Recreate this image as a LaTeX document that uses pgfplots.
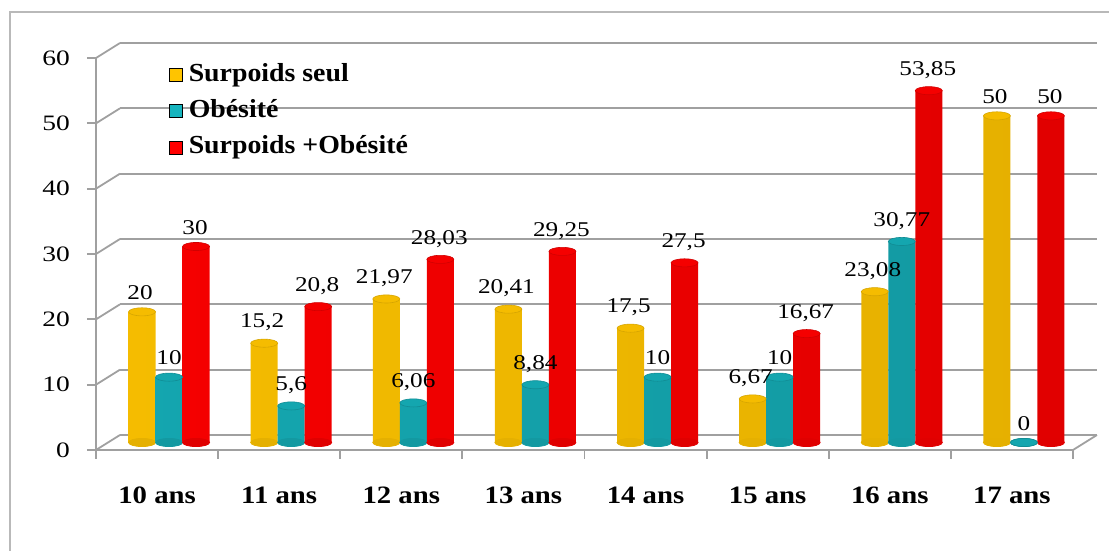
\documentclass[border=0pt]{standalone}
\usepackage{fontspec}
\setmainfont{Liberation Serif}
\usepackage{graphicx}
\usepackage{pgfplots}
\usepackage{pgfplotstable}
\pgfplotsset{compat=1.18}
\definecolor{cy}{HTML}{FFC400}
\definecolor{ct}{HTML}{16B4BE}
\definecolor{cr}{HTML}{FF0000}
\definecolor{gl}{HTML}{A0A0A0}
\newcommand\stx[1]{\scalebox{1.15}[1]{#1}}
\newcommand\stl[1]{\scalebox{1.07}[1]{#1}}
\pgfplotstableread{
x s o so
0.5 20 10 30
1.5 15.2 5.6 20.8
2.5 21.97 6.06 28.03
3.5 20.41 8.84 29.25
4.5 17.5 10 27.5
5.5 6.67 10 16.67
6.5 23.08 30.77 53.85
7.5 50 0 50
}\data
\pgfplotsset{
  base/.style={scale only axis, width=488.5pt, height=196pt,
    xmin=0, xmax=8, ymin=0, ymax=60, clip=false},
  legsq/.style={legend image code/.code={\fill[##1] (0pt,-3.25pt) rectangle (6.5pt,3.25pt); \path (8pt,0pt);}},
  bot/.style={only marks, mark=*, mark size=6.75pt, forget plot},
  lab/.style={ybar, bar width=13.5pt, draw=none, fill=none, forget plot,
    nodes near coords={\scalebox{1.2}[1]{\pgfmathprintnumber[use comma, fixed, precision=2, assume math mode=true]{\pgfplotspointmeta}}},
    every node near coord/.append style={font=\fontsize{10.5}{12}\selectfont, anchor=south, yshift=2.5pt, text=black}},
}
\begin{document}
\begin{tikzpicture}
\useasboundingbox (-48pt,-50.5pt) rectangle (506.5pt,225pt);
\draw[gray!55, line width=0.8pt] (-43pt,-60pt) -- (-43pt,219pt) -- (520pt,219pt);
% back wall
\begin{axis}[base, at={(12pt,7.5pt)}, axis line style={draw=none},
  xtick=\empty, ytick={0,10,...,60}, yticklabels={}, major tick length=0pt,
  ymajorgrids, major grid style={gl, line width=0.9pt}]
\end{axis}
% front axis
\begin{axis}[base, axis lines*=left, axis line style={gl, line width=0.9pt},
  ytick={0,10,...,60}, tick style={gl, line width=0.9pt}, tick align=outside,
  major tick length=4.5pt,
  xtick={0,...,8}, xticklabels={},
  extra x ticks={0.5,1.5,...,7.5},
  extra x tick labels={\stx{10 ans},\stx{11 ans},\stx{12 ans},\stx{13 ans},\stx{14 ans},\stx{15 ans},\stx{16 ans},\stx{17 ans}},
  extra x tick style={major tick length=0pt, xticklabel style={font=\bfseries\fontsize{12.5}{14}\selectfont, yshift=-15pt}},
  yticklabel={\scalebox{1.25}[1]{\pgfmathprintnumber[assume math mode=true]{\tick}}},
  yticklabel style={font=\fontsize{11}{13}\selectfont, xshift=-5pt}]
\pgfplotsinvokeforeach{0,10,20,30,40,50,60}{\draw[gl, line width=0.9pt] (axis cs:0,#1) -- ++(12pt,7.5pt);}
\draw[gl, line width=0.9pt] (axis cs:8,0) -- ++(12pt,7.5pt);
\end{axis}
% bars
\begin{axis}[base, at={(6pt,3.75pt)}, hide axis,
  legend style={draw=none, fill=none, at={(0.062,0.978)}, anchor=north west,
    inner sep=0pt, row sep=2.6pt, font=\bfseries\fontsize{13}{15}\selectfont,
    nodes={inner sep=1.5pt, text height=9.5pt, text depth=3pt}},
  legend cell align=left]
\addlegendimage{legsq, fill=cy}
\addlegendentry{\stl{Surpoids seul}}
\addlegendimage{legsq, fill=ct}
\addlegendentry{\stl{Obésité}}
\addlegendimage{legsq, fill=cr}
\addlegendentry{\stl{Surpoids +Obésité}}
% bottoms
\addplot[bot, mark options={xshift=-13.5pt, yscale=0.3, fill=cy!90!black, draw=cy!90!black}] table[x=x, y expr=0]{\data};
\addplot[bot, mark options={yscale=0.3, fill=ct!85!black, draw=ct!85!black}] table[x=x, y expr=0]{\data};
\addplot[bot, mark options={xshift=13.5pt, yscale=0.3, fill=cr!88!black, draw=cr!88!black}] table[x=x, y expr=0]{\data};
% bars
\addplot[ybar, bar width=13.5pt, bar shift=-13.5pt, draw=none, left color=cy!96!black, middle color=cy!60!white, right color=cy!90!black, forget plot] table[x=x, y=s]{\data};
\addplot[ybar, bar width=13.5pt, bar shift=0pt, draw=none, left color=ct!92!black, middle color=ct!75!white, right color=ct!85!black, forget plot] table[x=x, y=o]{\data};
\addplot[ybar, bar width=13.5pt, bar shift=13.5pt, draw=none, left color=cr!96!black, middle color=cr!88!white, right color=cr!88!black, forget plot] table[x=x, y=so]{\data};
% tops
\addplot[bot, mark options={xshift=-13.5pt, yscale=0.3, fill=cy!96!black, draw=cy!84!black, line width=0.3pt}] table[x=x, y=s]{\data};
\addplot[bot, mark options={yscale=0.3, fill=ct!92!black, draw=ct!78!black, line width=0.3pt}] table[x=x, y=o]{\data};
\addplot[bot, mark options={xshift=13.5pt, yscale=0.3, fill=cr!96!black, draw=cr!82!black, line width=0.3pt}] table[x=x, y=so]{\data};
% labels
\addplot[lab, every node near coord/.append style={xshift=-14.5pt}] table[x=x, y=s]{\data};
\addplot[lab] table[x=x, y=o]{\data};
\addplot[lab, every node near coord/.append style={xshift=13pt}] table[x=x, y=so]{\data};
\end{axis}
\end{tikzpicture}
\end{document}
